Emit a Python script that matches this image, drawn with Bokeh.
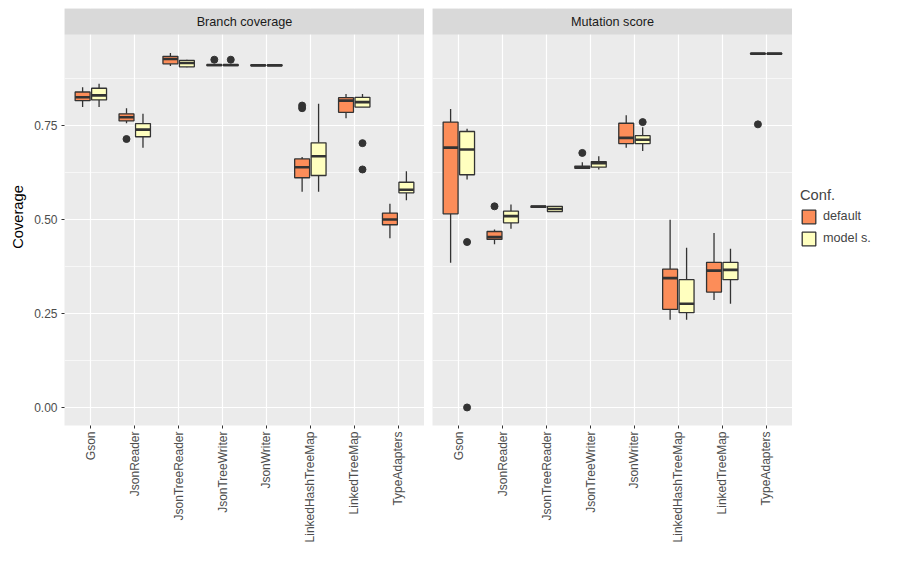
import math
from bokeh.plotting import figure
from bokeh.layouts import row
from bokeh.models import Range1d, FixedTicker, Legend, LegendItem, ColumnDataSource
from bokeh.core.properties import value
from bokeh.embed import file_html
from bokeh.resources import INLINE

classes = ["Gson", "JsonReader", "JsonTreeReader", "JsonTreeWriter", "JsonWriter",
           "LinkedHashTreeMap", "LinkedTreeMap", "TypeAdapters"]
confs = ["default", "model s."]
conf_colors = ["#FC8D59", "#FFFFBF"]
facets = ["Branch coverage", "Mutation score"]

# Branch coverage
br_def_lo  = [0.799, 0.756, 0.908, 0.909, 0.909, 0.574, 0.769, 0.450]
br_def_q1  = [0.816, 0.762, 0.914, 0.909, 0.909, 0.611, 0.785, 0.486]
br_def_med = [0.825, 0.772, 0.927, 0.911, 0.910, 0.639, 0.816, 0.500]
br_def_q3  = [0.839, 0.781, 0.934, 0.912, 0.911, 0.661, 0.824, 0.517]
br_def_hi  = [0.852, 0.796, 0.943, 0.912, 0.911, 0.666, 0.834, 0.542]
br_def_out = [(1, 0.714), (3, 0.925), (5, 0.803), (5, 0.796)]

br_mod_lo  = [0.799, 0.691, 0.905, 0.909, 0.909, 0.574, 0.799, 0.551]
br_mod_q1  = [0.818, 0.720, 0.906, 0.909, 0.909, 0.617, 0.799, 0.571]
br_mod_med = [0.830, 0.739, 0.916, 0.911, 0.910, 0.668, 0.812, 0.579]
br_mod_q3  = [0.849, 0.755, 0.923, 0.912, 0.911, 0.704, 0.825, 0.599]
br_mod_hi  = [0.861, 0.781, 0.925, 0.912, 0.911, 0.808, 0.834, 0.628]
br_mod_out = [(3, 0.925), (6, 0.703), (6, 0.633)]

# Mutation score
mu_def_lo  = [0.385, 0.434, 0.532, 0.636, 0.691, 0.233, 0.286, 0.940]
mu_def_q1  = [0.515, 0.447, 0.532, 0.636, 0.702, 0.261, 0.307, 0.940]
mu_def_med = [0.691, 0.453, 0.534, 0.639, 0.717, 0.344, 0.364, 0.941]
mu_def_q3  = [0.759, 0.468, 0.536, 0.642, 0.756, 0.368, 0.386, 0.942]
mu_def_hi  = [0.794, 0.473, 0.536, 0.652, 0.777, 0.499, 0.464, 0.942]
mu_def_out = [(1, 0.535), (3, 0.677), (7, 0.753)]

mu_mod_lo  = [0.606, 0.475, 0.521, 0.633, 0.682, 0.233, 0.276, 0.940]
mu_mod_q1  = [0.619, 0.491, 0.521, 0.639, 0.702, 0.252, 0.340, 0.940]
mu_mod_med = [0.686, 0.509, 0.528, 0.650, 0.712, 0.276, 0.366, 0.941]
mu_mod_q3  = [0.734, 0.522, 0.535, 0.654, 0.723, 0.340, 0.386, 0.942]
mu_mod_hi  = [0.741, 0.540, 0.535, 0.668, 0.745, 0.425, 0.422, 0.942]
mu_mod_out = [(0, 0.440), (0, 0.0), (4, 0.759)]

data = {
    0: [(br_def_lo, br_def_q1, br_def_med, br_def_q3, br_def_hi, br_def_out),
        (br_mod_lo, br_mod_q1, br_mod_med, br_mod_q3, br_mod_hi, br_mod_out)],
    1: [(mu_def_lo, mu_def_q1, mu_def_med, mu_def_q3, mu_def_hi, mu_def_out),
        (mu_mod_lo, mu_mod_q1, mu_mod_med, mu_mod_q3, mu_mod_hi, mu_mod_out)],
}

FONT = "Liberation Sans"
Y0, Y1 = -0.048, 0.992
STRIP_TOP = Y1 + (Y1 - Y0) * 26 / 391
yr = Range1d(Y0, STRIP_TOP)
figs = []
for fi, facet in enumerate(facets):
    p = figure(frame_width=360, frame_height=417, x_range=Range1d(0.4, 8.6), y_range=yr,
               output_backend="svg", toolbar_location=None, background_fill_color="#EBEBEB",
               border_fill_color="white", outline_line_color=None,
               min_border_top=8, min_border_bottom=5, min_border_left=0 if fi else 64,
               min_border_right=0)
    p.xaxis.ticker = FixedTicker(ticks=list(range(1, 9)))
    p.xaxis.major_label_overrides = {i + 1: c for i, c in enumerate(classes)}
    p.xaxis.major_label_orientation = math.pi / 2
    p.yaxis.ticker = FixedTicker(ticks=[0, 0.25, 0.5, 0.75], minor_ticks=[0.125, 0.375, 0.625, 0.875])
    p.yaxis.major_label_overrides = {0: "0.00", 0.25: "0.25", 0.5: "0.50", 0.75: "0.75"}
    for ax in (p.xaxis[0], p.yaxis[0]):
        ax.axis_line_color = None
        ax.major_tick_line_color = "#333333"
        ax.major_tick_out = 3
        ax.major_tick_in = 0
        ax.minor_tick_line_color = None
        ax.major_label_text_font = FONT
        ax.major_label_text_font_size = "9pt"
        ax.major_label_text_color = "#4D4D4D"
        ax.major_label_standoff = 3
    p.xgrid.grid_line_color = "white"
    p.xgrid.grid_line_width = 1.2
    p.ygrid.grid_line_color = "white"
    p.ygrid.grid_line_width = 1.2
    p.ygrid.minor_grid_line_color = "white"
    p.ygrid.minor_grid_line_width = 0.6
    if fi == 0:
        p.yaxis.axis_label = "Coverage"
        p.yaxis.axis_label_text_font = FONT
        p.yaxis.axis_label_text_font_style = "normal"
        p.yaxis.axis_label_text_font_size = "11pt"
        p.yaxis.axis_label_text_color = "black"
    else:
        p.yaxis.visible = False
    p.quad(left=[0.4], right=[8.6], bottom=[Y1], top=[STRIP_TOP], fill_color="#D9D9D9",
           line_color=None)
    p.text(x=[4.5], y=[(Y1 + STRIP_TOP) / 2], text=[facet], text_align="center",
           text_baseline="middle", text_font=value(FONT), text_font_size="9.5pt",
           text_color="#1A1A1A")
    for ci, (lo, q1, med, q3, hi, outs) in enumerate(data[fi]):
        off = -0.1875 if ci == 0 else 0.1875
        xs = [i + 1 + off for i in range(len(classes))]
        src = ColumnDataSource(dict(x=xs, lo=lo, q1=q1, med=med, q3=q3, hi=hi,
                                    l=[x - 0.17 for x in xs], r=[x + 0.17 for x in xs]))
        p.segment("x", "lo", "x", "q1", source=src, line_color="#333333", line_width=1.3)
        p.segment("x", "q3", "x", "hi", source=src, line_color="#333333", line_width=1.3)
        p.quad(left="l", right="r", bottom="q1", top="q3", source=src,
               fill_color=conf_colors[ci], line_color="#333333", line_width=1.3)
        p.segment("l", "med", "r", "med", source=src, line_color="#333333", line_width=2.6)
        p.scatter([o[0] + 1 + off for o in outs], [o[1] for o in outs], size=7,
                  color="#333333")
    figs.append(p)

# legend panel
lp = figure(frame_width=104, frame_height=417, x_range=Range1d(0, 1), y_range=Range1d(0, 1),
            output_backend="svg", toolbar_location=None, outline_line_color=None,
            min_border_top=8, min_border_bottom=5, min_border_left=0, min_border_right=0)
lp.axis.visible = False
lp.grid.visible = False
lrs = [lp.quad(left=[5], right=[6], bottom=[5], top=[6], fill_color=c, line_color="#333333",
               line_width=1.3) for c in conf_colors]
legend = Legend(items=[LegendItem(label=confs[i], renderers=[lrs[i]]) for i in range(2)],
                title="Conf.", title_text_font=FONT, title_text_font_size="11pt",
                title_text_font_style="normal", label_text_font=FONT, label_text_font_size="9.5pt",
                border_line_color=None, background_fill_alpha=0, glyph_width=17,
                glyph_height=17, location="left", margin=0, padding=2, spacing=5,
                label_standoff=6)
lp.add_layout(legend)
figs.append(lp)

layout = row(*figs, spacing=8)
open("out.html", "w").write(file_html(layout, INLINE))
